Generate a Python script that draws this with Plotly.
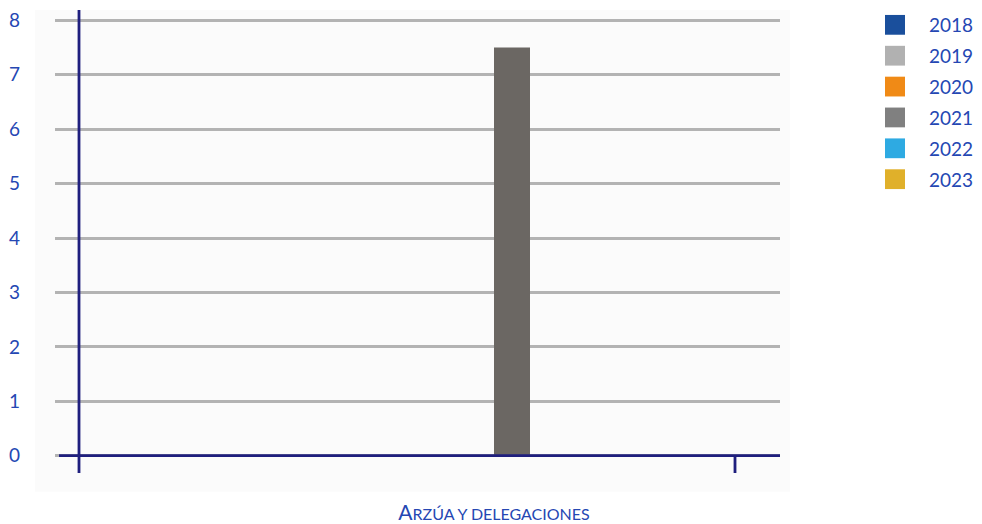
import plotly.graph_objects as go

categories = ["Arzúa y delegaciones"]
category_labels = ["A<span style='font-size:16px'>RZÚA Y DELEGACIONES</span>"]
years = ["2018", "2019", "2020", "2021", "2022", "2023"]
values = {
    "2018": [0],
    "2019": [0],
    "2020": [0],
    "2021": [7.5],
    "2022": [0],
    "2023": [0],
}
colors = ["#1a4f9c", "#b1b1b1", "#f08a16", "#6b6763", "#2eaae2", "#e0b02a"]
legend_colors = ["#1a4f9c", "#b1b1b1", "#f08a16", "#808080", "#2eaae2", "#e0b02a"]
y_ticks = [0, 1, 2, 3, 4, 5, 6, 7, 8]

TEXT = "#2547b3"
AXIS = "#1f1f7e"
FONT = "Lato, 'Open Sans', sans-serif"

OFF = 8  # page body margin
W, H = 974, 516

def f(p):
    return p - OFF

# plot area in figure pixels
PL, PR, PT, PB = f(55), f(780), 0, f(476)
pw, ph = PR - PL, PB - PT
Y0 = f(458.5)        # pixel of value 0
PXU = 55.0           # pixels per y unit
CX = f(494)          # category centre
XPU = 720.0          # pixels per x unit

fig = go.Figure()
for yr, col in zip(years, colors):
    fig.add_trace(go.Bar(
        x=categories, y=values[yr], name=yr,
        marker=dict(color=col, line=dict(width=0)),
        showlegend=False,
    ))

def px_x(p):
    return (f(p) - PL) / pw

def px_y(p):
    return (PB - f(p)) / ph

shapes = [
    dict(type="rect", xref="paper", yref="paper", x0=px_x(35), x1=px_x(790),
         y0=px_y(495), y1=px_y(8), fillcolor="#fbfbfb", line=dict(width=0), layer="below"),
    dict(type="line", xref="paper", yref="paper", x0=px_x(79), x1=px_x(79),
         y0=px_y(476), y1=px_y(8), line=dict(color=AXIS, width=2.8)),
    dict(type="line", xref="paper", yref="paper", x0=px_x(735), x1=px_x(735),
         y0=px_y(476), y1=px_y(458.5), line=dict(color=AXIS, width=2.8)),
    dict(type="line", xref="paper", yref="paper", x0=px_x(59), x1=1,
         y0=px_y(458.5), y1=px_y(458.5), line=dict(color=AXIS, width=2.8)),
]
annotations = []
for i, (yr, col) in enumerate(zip(years, legend_colors)):
    cy = 23 + i * 31.2
    shapes.append(dict(type="rect", xref="paper", yref="paper",
                       x0=px_x(885), x1=px_x(905), y0=px_y(cy + 10), y1=px_y(cy - 10),
                       fillcolor=col, line=dict(width=0)))
    annotations.append(dict(xref="paper", yref="paper", x=px_x(927), y=px_y(cy),
                            text=yr, showarrow=False, xanchor="left", yanchor="middle",
                            font=dict(size=19, color=TEXT, family=FONT)))

fig.update_layout(
    width=W, height=H,
    margin=dict(l=PL, r=W - PR, t=PT, b=H - PB),
    paper_bgcolor="white", plot_bgcolor="rgba(0,0,0,0)",
    barmode="group", bargap=0.7, bargroupgap=0,
    font=dict(family=FONT, color=TEXT, size=19),
    showlegend=False,
    shapes=shapes, annotations=annotations,
    xaxis=dict(
        range=[-(CX - PL) / XPU, (PR - CX) / XPU],
        tickmode="array", tickvals=categories, ticktext=category_labels,
        showgrid=False, showline=False, zeroline=False, ticks="",
        ticklabelstandoff=25,
        tickfont=dict(size=21, color=TEXT, family=FONT),
    ),
    yaxis=dict(
        range=[-(PB - Y0) / PXU, (Y0 - PT) / PXU], tickvals=y_ticks,
        showgrid=True, gridcolor="#b3b3b3", gridwidth=2.8,
        zeroline=False, showline=False, ticks="",
        ticklabelstandoff=34, ticklabeloverflow="allow",
        tickfont=dict(size=19, color=TEXT, family=FONT),
    ),
)

fig.write_html("out.html")
